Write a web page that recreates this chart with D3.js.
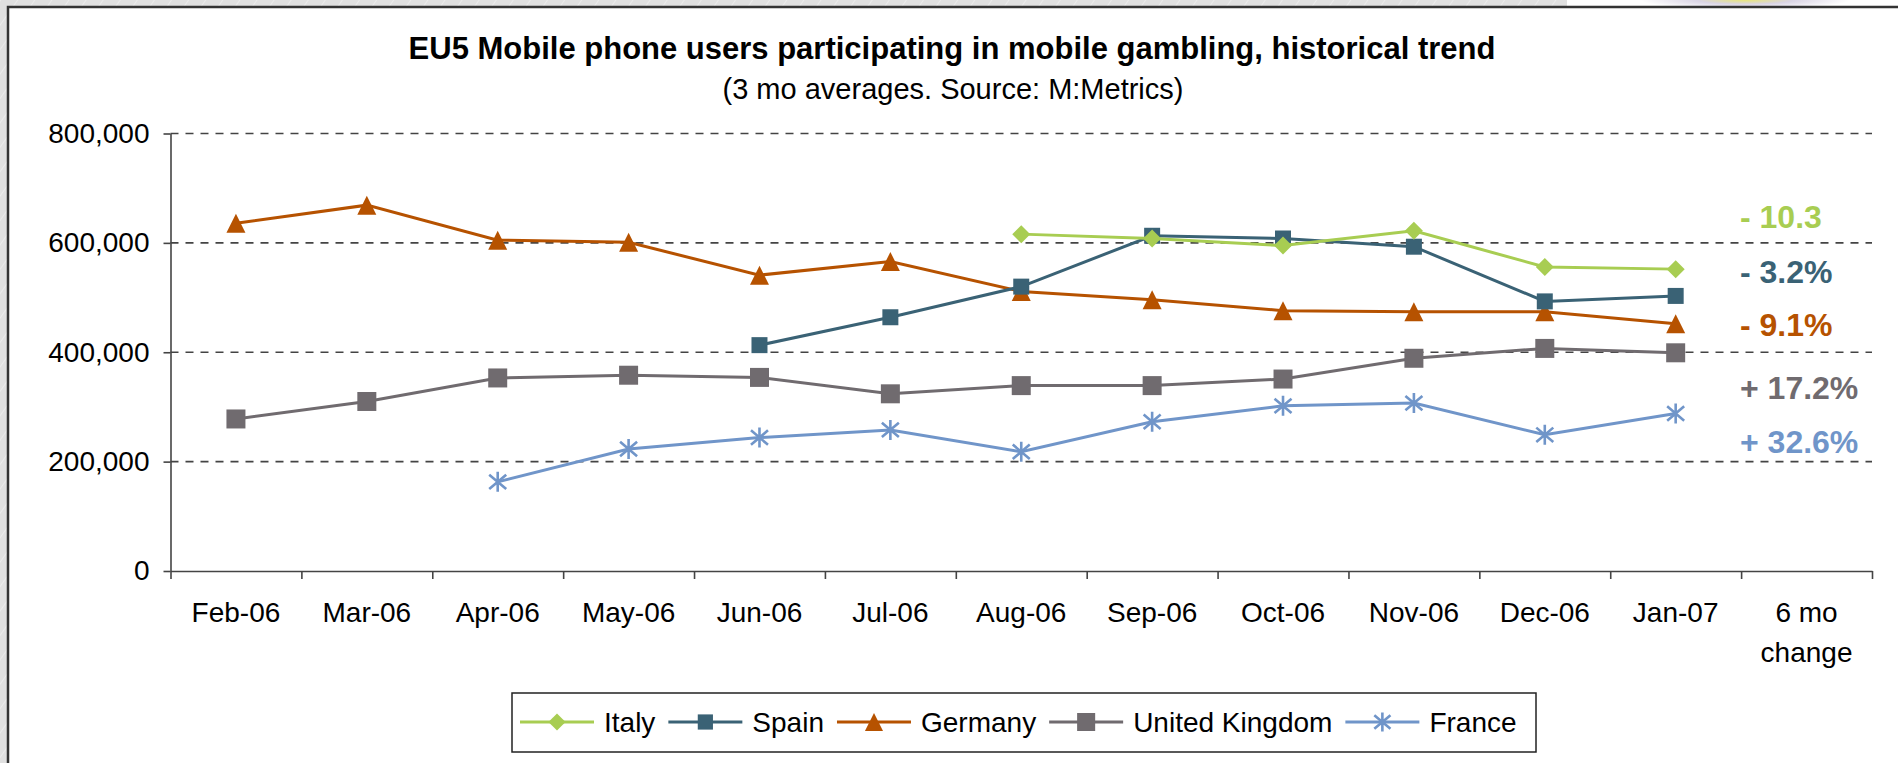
<!DOCTYPE html>
<html>
<head>
<meta charset="utf-8">
<script src="https://cdn.jsdelivr.net/npm/d3@7/dist/d3.min.js"></script>
<style>
  body { margin: 0; background: #e2e2e2; overflow: hidden; }
  text { font-family: "Liberation Sans", Arial, sans-serif; }
</style>
</head>
<body>
<script>
// values (users, 3 month averages)
var months = ['Feb-06', 'Mar-06', 'Apr-06', 'May-06', 'Jun-06', 'Jul-06',
  'Aug-06', 'Sep-06', 'Oct-06', 'Nov-06', 'Dec-06', 'Jan-07'];
var categories = months.concat(['6 mo change']);

var italy = [null, null, null, null, null, null, 616000, 608000, 595000, 622000, 556000, 552000];
var spain = [null, null, null, null, 413000, 464000, 520000, 613000, 608000, 593000, 493000, 503000];
var germany = [636000, 669000, 605000, 601000, 541000, 566000, 511000, 496000, 476000, 474000, 474000, 452000];
var uk = [278000, 310000, 353000, 358000, 354000, 324000, 339000, 339000, 351000, 389000, 407000, 399000];
var france = [null, null, 163000, 223000, 244000, 258000, 218000, 273000, 302000, 307000, 249000, 288000];

var changeLabels = ['- 10.3', '- 3.2%', '- 9.1%', '+ 17.2%', '+ 32.6%'];
var yTicks = [0, 200000, 400000, 600000, 800000];

var series = [
  { name: 'Italy', values: italy, color: '#a8cd52', marker: 'diamond', size: 18 },
  { name: 'Spain', values: spain, color: '#3a6275', marker: 'square', size: 16 },
  { name: 'Germany', values: germany, color: '#b65200', marker: 'triangle', size: 19 },
  { name: 'United Kingdom', values: uk, color: '#706b6f', marker: 'square', size: 19 },
  { name: 'France', values: france, color: '#7095c9', marker: 'star', size: 20 }
];

var width = 1898,
  height = 763,
  plotLeft = 170.5,
  plotRight = 1872,
  plotTop = 133.5,
  plotBottom = 571;

var svg = d3.select('body').append('svg')
  .attr('width', width)
  .attr('height', height);

// page background with faint diagonal texture
var defs = svg.append('defs');
var pat = defs.append('pattern')
  .attr('id', 'diag')
  .attr('width', 14)
  .attr('height', 14)
  .attr('patternUnits', 'userSpaceOnUse')
  .attr('patternTransform', 'rotate(35)');
pat.append('rect').attr('width', 14).attr('height', 14).attr('fill', '#e0e0e0');
pat.append('line').attr('x1', 0).attr('y1', 0).attr('x2', 0).attr('y2', 14)
  .attr('stroke', '#ebebeb').attr('stroke-width', 2);

var blob = defs.append('radialGradient').attr('id', 'blob');
blob.append('stop').attr('offset', '0%').attr('stop-color', '#e8e67a');
blob.append('stop').attr('offset', '45%').attr('stop-color', '#d9d4e4');
blob.append('stop').attr('offset', '100%').attr('stop-color', '#ffffff');

svg.append('rect').attr('width', width).attr('height', height).attr('fill', 'url(#diag)');
svg.append('rect').attr('x', 1567).attr('y', 0).attr('width', 331).attr('height', 8).attr('fill', '#fff');
svg.append('ellipse').attr('cx', 1745).attr('cy', 0).attr('rx', 105).attr('ry', 9).attr('fill', 'url(#blob)');

svg.append('rect')
  .attr('x', 8)
  .attr('y', 7)
  .attr('width', width + 10)
  .attr('height', height + 10)
  .style('fill', '#fff')
  .style('stroke', '#333')
  .style('stroke-width', 2.5);

// title
svg.append('text')
  .attr('x', 952)
  .attr('y', 59)
  .attr('text-anchor', 'middle')
  .style('font-size', '31px')
  .style('font-weight', 'bold')
  .text('EU5 Mobile phone users participating in mobile gambling, historical trend');

svg.append('text')
  .attr('x', 953)
  .attr('y', 99)
  .attr('text-anchor', 'middle')
  .style('font-size', '29px')
  .text('(3 mo averages. Source: M:Metrics)');

var x = d3.scaleBand().domain(categories).range([plotLeft, plotRight]).paddingInner(0).paddingOuter(0);
var xEdge = d3.scaleLinear().domain([0, categories.length]).range([plotLeft, plotRight]);
var y = d3.scaleLinear().domain([0, 800000]).range([plotBottom, plotTop]);

function cx(i) { return x(categories[i]) + x.bandwidth() / 2; }

// dashed gridlines
svg.append('g')
  .selectAll('line')
  .data(yTicks.filter(function(d) { return d > 0; }))
  .enter()
  .append('line')
  .attr('x1', plotLeft)
  .attr('x2', plotRight)
  .attr('y1', function(d) { return y(d); })
  .attr('y2', function(d) { return y(d); })
  .style('stroke', '#444')
  .style('stroke-width', 1.6)
  .style('stroke-dasharray', '8,7');

// y axis
var yAxis = svg.append('g')
  .attr('transform', 'translate(' + plotLeft + ',0)')
  .call(d3.axisLeft(y).tickValues(yTicks).tickFormat(d3.format(',')).tickSize(7).tickSizeOuter(0).tickPadding(14));
yAxis.select('.domain').style('stroke', '#444').style('stroke-width', 1.6);
yAxis.selectAll('.tick line').style('stroke', '#444').style('stroke-width', 1.6);
yAxis.selectAll('text')
  .style('font-size', '28px')
  .style('fill', '#000')
  .style('font-family', '"Liberation Sans", Arial, sans-serif');

// x axis: ticks on category edges, labels in the middle
var xTicks = svg.append('g')
  .attr('transform', 'translate(0,' + plotBottom + ')')
  .call(d3.axisBottom(xEdge).tickValues(d3.range(categories.length + 1))
    .tickFormat('').tickSize(8).tickSizeOuter(0));
xTicks.select('.domain').style('stroke', '#444').style('stroke-width', 1.6);
xTicks.selectAll('.tick line').style('stroke', '#444').style('stroke-width', 1.6);

var xLabels = svg.append('g')
  .attr('transform', 'translate(0,' + plotBottom + ')')
  .call(d3.axisBottom(x).tickSize(0).tickPadding(31));
xLabels.select('.domain').remove();
xLabels.selectAll('text')
  .style('font-size', '28px')
  .style('fill', '#000')
  .style('font-family', '"Liberation Sans", Arial, sans-serif')
  .each(function(d) {
    if (d === '6 mo change') {
      var t = d3.select(this);
      t.text(null);
      t.append('tspan').attr('x', 0).text('6 mo');
      t.append('tspan').attr('x', 0).attr('dy', '1.43em').text('change');
    }
  });

// markers
function markerPath(type, s) {
  var h = s / 2;
  if (type === 'diamond') return 'M0,' + (-h) + 'L' + h + ',0L0,' + h + 'L' + (-h) + ',0Z';
  if (type === 'square') return 'M' + (-h) + ',' + (-h) + 'h' + s + 'v' + s + 'h' + (-s) + 'Z';
  if (type === 'triangle') return 'M0,' + (-h) + 'L' + (h) + ',' + h + 'L' + (-h) + ',' + h + 'Z';
  var a = h * 0.85, b = h * 0.72;
  return 'M0,' + (-h) + 'V' + h + 'M' + (-a) + ',' + (-b) + 'L' + a + ',' + b + 'M' + a + ',' + (-b) + 'L' + (-a) + ',' + b;
}

function drawMarker(g, s, px, py, scale) {
  var sz = s.size * (scale || 1);
  var p = g.append('path')
    .attr('transform', 'translate(' + px + ',' + py + ')')
    .attr('d', markerPath(s.marker, sz));
  if (s.marker === 'star') {
    p.style('fill', 'none').style('stroke', s.color).style('stroke-width', 2.6);
  } else {
    p.style('fill', s.color);
  }
}

var line = d3.line()
  .defined(function(d) { return d != null; })
  .x(function(d, i) { return cx(i); })
  .y(function(d) { return y(d); });

// draw in reverse so Italy ends on top
series.slice().reverse().forEach(function(s) {
  var g = svg.append('g').attr('class', 'series');
  g.append('path')
    .datum(s.values)
    .attr('d', line)
    .style('fill', 'none')
    .style('stroke', s.color)
    .style('stroke-width', 3);
  s.values.forEach(function(v, i) {
    if (v != null) drawMarker(g, s, cx(i), y(v));
  });
});

// 6 month change annotations
var changeY = [228, 283, 336, 399, 453];
svg.append('g')
  .selectAll('text')
  .data(changeLabels)
  .enter()
  .append('text')
  .attr('x', 1740)
  .attr('y', function(d, i) { return changeY[i]; })
  .style('font-size', '32px')
  .style('font-weight', 'bold')
  .style('fill', function(d, i) { return series[i].color; })
  .text(function(d) { return d; });

// legend
var legend = svg.append('g').attr('class', 'legend');
legend.append('rect')
  .attr('x', 512)
  .attr('y', 693)
  .attr('width', 1024)
  .attr('height', 59)
  .style('fill', '#fff')
  .style('stroke', '#222')
  .style('stroke-width', 1.5);

var lx = 520, ly = 722;
series.forEach(function(s) {
  legend.append('line')
    .attr('x1', lx)
    .attr('x2', lx + 74)
    .attr('y1', ly)
    .attr('y2', ly)
    .style('stroke', s.color)
    .style('stroke-width', 3);
  drawMarker(legend, s, lx + 37, ly, 0.95);
  var t = legend.append('text')
    .attr('x', lx + 84)
    .attr('y', ly)
    .attr('dy', '0.35em')
    .style('font-size', '28px')
    .text(s.name);
  lx += 84 + t.node().getComputedTextLength() + 13;
});
</script>
</body>
</html>
